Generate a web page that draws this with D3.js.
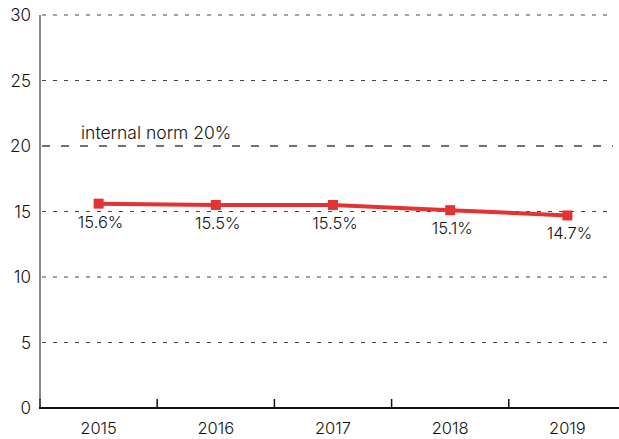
<!DOCTYPE html>
<html>
<head>
<meta charset="utf-8">
<script src="https://d3js.org/d3.v7.min.js"></script>
<style>
  body { margin: 0; background: #fff; }
  text { font-family: Inter, "Noto Sans", sans-serif; fill: #111; font-weight: 300; }
</style>
</head>
<body>
<script>
// data
var years = ["2015", "2016", "2017", "2018", "2019"];
var values = [15.6, 15.5, 15.5, 15.1, 14.7];
var labels = ["15.6%", "15.5%", "15.5%", "15.1%", "14.7%"];
var yTicks = [0, 5, 10, 15, 20, 25, 30];
var normValue = 20;
var normLabel = "internal norm 20%";

var W = 619, H = 439;
var svg = d3.select("body").append("svg").attr("width", W).attr("height", H);

var x = d3.scaleBand().domain(years).range([40, 626]);
var y = d3.scaleLinear().domain([0, 30]).range([408, 15]);

// grid
svg.selectAll("line.grid")
  .data(yTicks.filter(function(d){ return d > 0 && d != normValue; }))
  .enter().append("line")
  .attr("x1", 42).attr("x2", 613)
  .attr("y1", function(d){ return y(d); })
  .attr("y2", function(d){ return y(d); })
  .attr("stroke", "#444").attr("stroke-width", 1.2)
  .attr("stroke-dasharray", "4,7");

// norm line
svg.append("line")
  .attr("x1", 42).attr("x2", 613)
  .attr("y1", y(normValue)).attr("y2", y(normValue))
  .attr("stroke", "#7d6e6e").attr("stroke-width", 2)
  .attr("stroke-dasharray", "8,11");
svg.append("text").attr("x", 81).attr("y", y(normValue) - 7)
  .attr("font-size", 17.5).text(normLabel);

// y axis
svg.append("line").attr("x1", 40).attr("x2", 40).attr("y1", 15).attr("y2", 400)
  .attr("stroke", "#888").attr("stroke-width", 2);
svg.selectAll("text.ytick").data(yTicks).enter().append("text")
  .attr("x", 31).attr("y", function(d){ return y(d) + 6; })
  .attr("text-anchor", "end").attr("font-size", 17)
  .text(function(d){ return d; });

// x axis
svg.append("line").attr("x1", 39).attr("x2", 619).attr("y1", 408).attr("y2", 408)
  .attr("stroke", "#111").attr("stroke-width", 2);
svg.selectAll("line.xtick").data(years).enter().append("line")
  .attr("x1", function(d){ return x(d); }).attr("x2", function(d){ return x(d); })
  .attr("y1", 399).attr("y2", 408)
  .attr("stroke", "#111").attr("stroke-width", 1.5);
svg.selectAll("text.xlab").data(years).enter().append("text")
  .attr("x", function(d){ return x(d) + x.bandwidth() / 2; })
  .attr("y", 434)
  .attr("text-anchor", "middle").attr("font-size", 16.5)
  .text(function(d){ return d; });

// series
var cx = function(d, i){ return x(years[i]) + x.bandwidth() / 2; };
var line = d3.line().x(function(d, i){ return cx(d, i); }).y(function(d){ return y(d); });
svg.append("path").datum(values).attr("d", line)
  .attr("fill", "none").attr("stroke", "#e53333").attr("stroke-width", 4);
svg.selectAll("rect.pt").data(values).enter().append("rect")
  .attr("x", function(d, i){ return cx(d, i) - 5; })
  .attr("y", function(d){ return y(d) - 5; })
  .attr("width", 10).attr("height", 10)
  .attr("fill", "#e53333");
svg.selectAll("text.vlab").data(values).enter().append("text")
  .attr("x", function(d, i){ return cx(d, i) + 2; })
  .attr("y", function(d){ return y(d) + 24; })
  .attr("text-anchor", "middle").attr("font-size", 16.5)
  .text(function(d, i){ return labels[i]; });
</script>
</body>
</html>
